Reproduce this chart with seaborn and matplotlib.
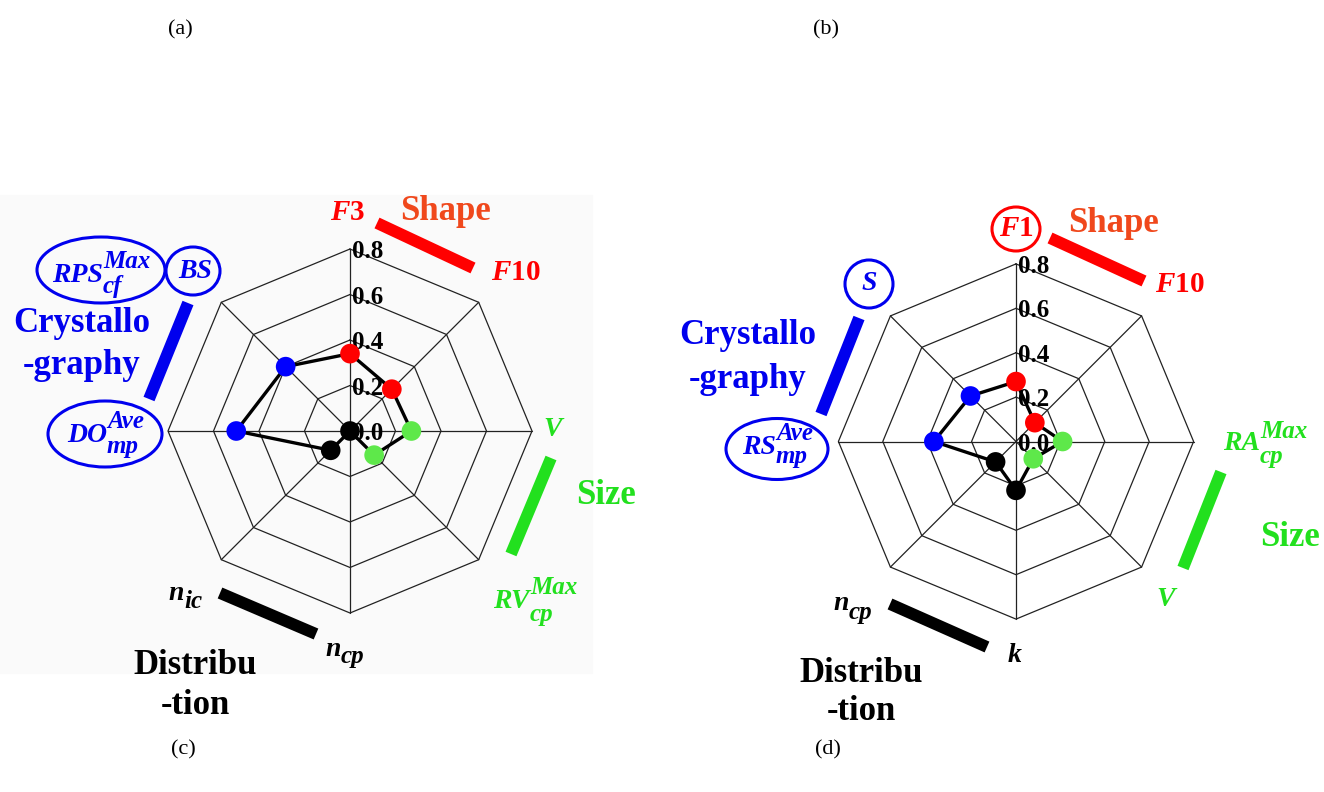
import numpy as np
import pandas as pd
import seaborn as sns
import matplotlib.pyplot as plt
from matplotlib.patches import Ellipse, Rectangle

# spoke directions (deg), clockwise from the top
spoke_angles = [90, 45, 0, -45, -90, -135, 180, 135]
groups = ['Shape', 'Shape', 'Size', 'Size', 'Distribution', 'Distribution',
          'Crystallography', 'Crystallography']
# panel (c): F3, F10, V, RV_cp^Max, n_cp, n_ic, DO_mp^Ave, BS
values_c = [0.34, 0.26, 0.27, 0.15, 0.0, 0.12, 0.50, 0.40]
# panel (d): F1, F10, RA_cp^Max, V, k, n_cp, RS_mp^Ave, S
values_d = [0.27, 0.12, 0.21, 0.11, 0.22, 0.13, 0.37, 0.29]
rings = [0.2, 0.4, 0.6, 0.8]
tick_labels = ['0.0', '0.2', '0.4', '0.6', '0.8']

RED = '#ff0000'
ORANGE = '#f0481c'
GREEN = '#22e01e'
BLUE = '#0000ee'
point_colors = {'Shape': '#ff0000', 'Size': '#5ee84a',
                'Distribution': '#000000', 'Crystallography': '#0000ff'}

sns.set_theme(style='white')
plt.rcParams['font.family'] = ['Liberation Serif', 'DejaVu Serif']
plt.rcParams['mathtext.fontset'] = 'custom'
plt.rcParams['mathtext.it'] = 'Liberation Serif:italic:bold'
plt.rcParams['mathtext.rm'] = 'Liberation Serif:bold'
plt.rcParams['mathtext.bf'] = 'Liberation Serif:bold'

W, H = 1324, 792
fig = plt.figure(figsize=(W / 100, H / 100), dpi=100)
fig.patch.set_facecolor('white')

# faint grey frame behind panel (c)
fig.patches.append(Rectangle((0, 1 - 673 / H), 592 / W, (673 - 195) / H,
                             transform=fig.transFigure, color='#fafafa',
                             zorder=-5))


def make_panel(rect, cx, cy, scale):
    ax = fig.add_axes(rect)
    x0, w = rect[0] * W, rect[2] * W
    y0, h = rect[1] * H, rect[3] * H
    cyb = H - cy
    ax.set_xlim((x0 - cx) / scale, (x0 + w - cx) / scale)
    ax.set_ylim((y0 - cyb) / scale, (y0 + h - cyb) / scale)
    ax.axis('off')

    def u(px, py):
        return (px - cx) / scale, (cy - py) / scale
    return ax, u


def draw_radar(ax, values):
    th = np.deg2rad(spoke_angles)
    loop = np.append(th, th[0])
    for r in rings:
        ax.plot(r * np.cos(loop), r * np.sin(loop), color='#222222', lw=0.9,
                zorder=1)
    for t in th:
        ax.plot([0, 0.8 * np.cos(t)], [0, 0.8 * np.sin(t)], color='#222222',
                lw=0.9, zorder=1)
    for r, lab in zip([0.0] + rings, tick_labels):
        ax.text(0.01, r - 0.012, lab, ha='left', va='center', fontsize=18,
                fontweight='bold', color='black', zorder=2)
    v = np.array(values)
    df = pd.DataFrame({'x': v * np.cos(th), 'y': v * np.sin(th),
                       'group': groups})
    closed = pd.concat([df, df.iloc[:1]], ignore_index=True)
    sns.lineplot(data=closed, x='x', y='y', sort=False, estimator=None,
                 color='black', lw=2.4, ax=ax, zorder=3)
    sns.scatterplot(data=df, x='x', y='y', hue='group', palette=point_colors,
                    s=200, edgecolor='none', legend=False, ax=ax, zorder=4)


def bar(ax, u, p1, p2, color):
    a, b = u(*p1), u(*p2)
    ax.plot([a[0], b[0]], [a[1], b[1]], color=color, lw=8.5,
            solid_capstyle='butt')


def label(ax, u, p, s, color, size=25):
    x, y = u(*p)
    ax.text(x, y, s, color=color, fontsize=size, ha='center', va='center',
            fontweight='bold')


def script_label(ax, u, p, base, color, sub=None, sup=None, dsub=12, dsup=12,
                 size=20, ssize=18):
    # base ends at p; scripts start there, nearly full size like the original
    x, y = u(*p)
    kw = dict(color=color, fontstyle='italic', fontweight='bold',
              va='center', textcoords='offset points')
    ax.annotate(base, (x, y), xytext=(0, 0), ha='right', fontsize=size, **kw)
    if sup:
        ax.annotate(sup, (x, y), xytext=(0, dsup * 0.72), ha='left',
                    fontsize=ssize, **kw)
    if sub:
        ax.annotate(sub, (x, y), xytext=(0, -dsub * 0.72), ha='left',
                    fontsize=ssize, **kw)


def ring(ax, u, p, wpx, hpx, color):
    x, y = u(*p)
    sc = u(1, 0)[0] - u(0, 0)[0]
    ax.add_patch(Ellipse((x, y), wpx * sc, hpx * sc, fill=False, ec=color,
                         lw=2.2))


# ---------------- panel (c) ----------------
ax, u = make_panel([0, 0, 0.5, 1], 350, 431, 227.5)
draw_radar(ax, values_c)
label(ax, u, (348, 213), r'$F3$', RED, size=21)
label(ax, u, (446, 211), 'Shape', ORANGE)
bar(ax, u, (377, 223), (473, 268), RED)
label(ax, u, (516, 272), r'$F10$', RED, size=21)
script_label(ax, u, (562, 430), 'V', GREEN)
bar(ax, u, (551, 458), (511, 554), GREEN)
label(ax, u, (606, 495), 'Size', GREEN)
script_label(ax, u, (530, 602), 'RV', GREEN, sub='cp', sup='Max',
             dsub=13, dsup=14)
bar(ax, u, (220, 593), (316, 634), 'black')
script_label(ax, u, (184, 593), 'n', 'black', sub='ic', dsub=8)
script_label(ax, u, (341, 649), 'n', 'black', sub='cp', dsub=8)
label(ax, u, (195, 665), 'Distribu', 'black')
label(ax, u, (195, 706), '-tion', 'black')
bar(ax, u, (188, 303), (149, 399), BLUE)
ring(ax, u, (101, 270), 128, 66, BLUE)
script_label(ax, u, (103, 275), 'RPS', BLUE, sub='cf', sup='Max',
             dsub=11, dsup=14)
ring(ax, u, (193, 271), 54, 48, BLUE)
script_label(ax, u, (212, 271), 'BS', BLUE)
label(ax, u, (82, 323), 'Crystallo', BLUE)
label(ax, u, (82, 366), '-graphy', BLUE)
ring(ax, u, (105, 434), 114, 66, BLUE)
script_label(ax, u, (107, 436), 'DO', BLUE, sub='mp', sup='Ave',
             dsub=10, dsup=15)

# ---------------- panel (d) ----------------
ax, u = make_panel([0.5, 0, 0.5, 1], 1016, 441.5, 222)
draw_radar(ax, values_d)
ring(ax, u, (1016, 229), 48, 44, RED)
label(ax, u, (1016, 229), r'$F1$', RED, size=21)
label(ax, u, (1113, 223), 'Shape', ORANGE)
bar(ax, u, (1050, 238), (1144, 281), RED)
label(ax, u, (1180, 284), r'$F10$', RED, size=21)
script_label(ax, u, (1260, 443), 'RA', GREEN, sub='cp', sup='Max',
             dsub=14, dsup=12)
bar(ax, u, (1221, 472), (1183, 568), GREEN)
label(ax, u, (1290, 537), 'Size', GREEN)
script_label(ax, u, (1175, 599), 'V', GREEN)
bar(ax, u, (890, 604), (987, 647), 'black')
script_label(ax, u, (849, 604), 'n', 'black', sub='cp', dsub=8)
script_label(ax, u, (1022, 656), 'k', 'black')
label(ax, u, (861, 673), 'Distribu', 'black')
label(ax, u, (861, 712), '-tion', 'black')
bar(ax, u, (859, 318), (821, 414), BLUE)
ring(ax, u, (869, 284), 48, 48, BLUE)
script_label(ax, u, (877, 284), 'S', BLUE)
label(ax, u, (748, 336), 'Crystallo', BLUE)
label(ax, u, (748, 380), '-graphy', BLUE)
ring(ax, u, (777, 449), 102, 61, BLUE)
script_label(ax, u, (776, 447), 'RS', BLUE, sub='mp', sup='Ave',
             dsub=10, dsup=14)

# panel letters
for s, (px, py) in zip(['(a)', '(b)', '(c)', '(d)'],
                       [(180, 30), (826, 30), (183, 750), (828, 750)]):
    fig.text(px / W, 1 - py / H, s, ha='center', va='center', fontsize=16,
             color='black')

fig.savefig('out.png', dpi=100, facecolor='white')
